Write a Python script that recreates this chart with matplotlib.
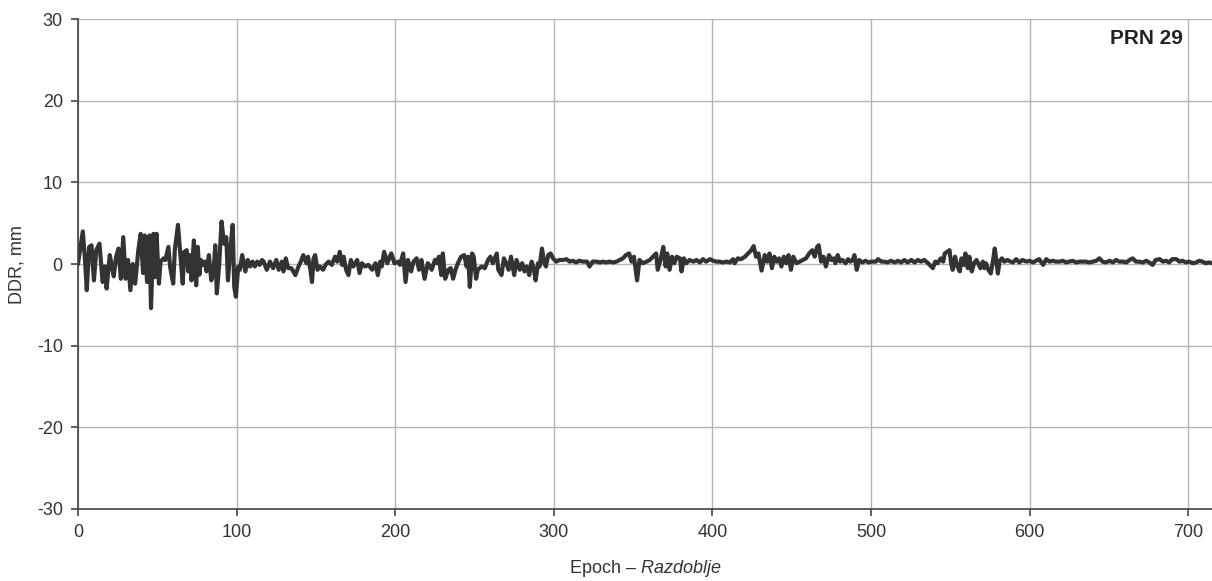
import matplotlib.pyplot as plt
from matplotlib import font_manager

# Epoch / DDR (mm), PRN 29
epoch = [
    0, 3, 4.4, 5.5, 7, 8.5, 10, 11.5, 13.5, 15.5, 17, 18, 20, 21, 22.5, 24, 25.5, 27, 28.5, 30,
    31.5, 33, 34.5, 36, 38, 39.5, 41, 42, 43.5, 45, 46, 47.5, 48.5, 49.5, 51, 52, 54, 55, 57, 58,
    60, 61, 63, 65, 66, 67, 68.5, 69.5, 70.5, 71.5, 73, 74.5, 75.5, 76.5, 77.5, 79, 80, 81, 82.5, 84,
    85.5, 86.5, 87.5, 89, 90.5, 92, 93.5, 94.5, 96, 97.5, 98.5, 99.5, 101, 102, 103.5, 105.5, 107, 108.5, 110, 111.5,
    113, 114.5, 116, 117, 119, 121, 123, 125, 126.5, 128.5, 129.5, 131, 132.5, 134.5, 137, 139, 140.5, 142, 144, 145,
    146.5, 147.5, 148.5, 149.5, 151, 152.5, 154.5, 156, 158, 160, 162, 163.5, 165, 166.5, 167.5, 169, 170.5, 172, 173.5, 176,
    177.5, 179, 181, 183, 185.5, 187.5, 189, 190.5, 191.5, 193, 195, 196.5, 197.5, 199.5, 202, 203, 205, 206.5, 208, 210,
    211.5, 213.5, 215, 216.5, 218.5, 220.5, 222, 223, 225, 226.5, 227.5, 229, 230, 231.5, 233.5, 235, 236.5, 238, 239.5, 241.5,
    243.5, 245, 246, 247, 248.5, 249.5, 251, 252, 254.5, 256.5, 258.5, 260, 261.5, 264, 265, 267, 268.5, 270, 271.5, 273,
    275, 276.5, 278.5, 280, 281.5, 283, 284.5, 286, 287.5, 288.5, 290, 291, 292.5, 294, 295, 296.5, 298, 299.5, 301.5, 303.5,
    306, 308, 310, 312, 314, 316, 318.5, 321, 322.5, 324.5, 327, 329, 331, 333, 335, 337.5, 339.5, 341.5, 343.5, 345.5,
    347.5, 349, 350.5, 352.5, 354, 356, 358.5, 360.5, 362.5, 364.5, 365.5, 367.5, 369, 370.5, 371.5, 373, 374.5, 376, 377.5, 379.5,
    380.5, 382, 383.5, 385.5, 388, 390, 392, 394, 396, 398.5, 400.5, 402.5, 404.5, 406.5, 409, 411, 413, 414, 416, 418,
    420.5, 422.5, 424.5, 426, 427.5, 429, 431, 433, 434.5, 436, 437.5, 439, 440.5, 442, 443.5, 445, 446.5, 448, 449.5, 451,
    453, 455, 457, 459, 461, 463, 464.5, 466, 467, 468.5, 470, 471.5, 473.5, 475, 476.5, 477.5, 479, 480.5, 482, 484,
    485.5, 487, 488.5, 489.5, 491, 492.5, 494.5, 496.5, 498.5, 500.5, 503, 504.5, 506.5, 508.5, 510.5, 512.5, 515, 517, 519, 521,
    523, 525.5, 527.5, 529.5, 531.5, 533.5, 536, 538, 539, 540.5, 542, 544, 545.5, 546.5, 548, 549.5, 550.5, 551.5, 553, 554.5,
    556, 557, 558.5, 559.5, 561, 562, 563.5, 565, 566.5, 567.5, 569, 570.5, 571.5, 572.5, 574, 575.5, 577, 578, 579, 580,
    581, 582.5, 584, 586, 588, 589.5, 591.5, 593.5, 595.5, 598, 600, 602, 604, 606, 608.5, 610.5, 612.5, 614.5, 616.5, 619,
    621, 623, 625, 627, 629.5, 631.5, 633.5, 635.5, 637.5, 640, 642, 644, 646, 648, 650.5, 652.5, 654.5, 656.5, 659, 661,
    663, 665, 667, 669, 671.5, 673.5, 675.5, 677.5, 679.5, 682, 684, 686, 688, 690, 692.5, 694.5, 696.5, 698.5, 700.5, 703,
    705, 707, 709, 711, 713, 715,
]
ddr = [
    0.1, 4.0, 0.5, -3.2, 2.1, 2.3, -2.0, 1.7, 2.5, -2.2, -0.3, -3.0, 1.1, 0.1, -1.5, 0.9, 1.9, -1.8, 3.3, -1.8,
    0.5, -3.2, 0.0, -2.4, 1.7, 3.7, -1.1, 3.5, -2.2, 3.5, -5.4, 3.7, -1.6, 3.7, -2.4, 0.3, 0.7, 0.5, 2.1, -0.3,
    -2.4, 1.7, 4.8, 0.0, -2.4, 1.5, 1.7, -0.9, 1.1, -2.0, 2.9, -2.6, 2.1, -1.3, 0.5, -0.1, 0.3, -0.9, 1.1, -2.0,
    -0.8, 2.3, -3.6, 0.0, 5.2, 2.5, 3.3, -2.0, 1.7, 4.8, -2.8, -4.0, -0.3, -0.7, 1.1, -0.9, 0.5, -0.3, 0.3, -0.3,
    0.3, -0.1, 0.5, 0.3, -0.7, 0.3, -0.5, 0.5, -0.7, 0.3, -0.9, 0.7, -0.5, -0.5, -1.35, -0.3, 0.3, 1.1, 0.1, 0.9,
    -0.7, -2.2, 0.7, 1.1, -0.7, -0.3, -0.7, -0.1, 0.3, -0.1, 0.9, 0.3, 1.5, -0.1, 0.9, -0.7, -1.35, 0.5, -0.3, 0.5,
    -1.1, 0.1, -0.3, -0.1, -0.7, 0.1, -1.35, 0.3, -0.3, 1.5, 0.1, 0.9, 1.3, 0.1, 0.3, -0.1, 1.3, -2.2, 0.5, -0.9,
    0.3, 0.7, -0.7, 0.5, -1.8, 0.1, -0.3, -0.7, 0.5, 0.1, 0.9, -1.35, 1.3, -1.8, -0.7, -0.5, -1.8, -0.7, 0.1, 0.9,
    1.1, -0.3, 0.9, -2.8, 1.3, 0.9, -1.8, -0.7, -0.3, -0.5, 0.5, 0.9, 0.1, 1.3, -0.7, -1.35, 0.7, 0.1, -0.7, 0.9,
    -1.35, 0.5, -0.7, 0.1, -0.9, -0.3, -1.35, 0.3, -0.7, -2.0, 0.1, -0.3, 1.9, 0.1, -0.3, 1.1, 1.3, 0.7, 0.3, 0.5,
    0.5, 0.6, 0.3, 0.4, 0.2, 0.4, 0.3, 0.3, -0.3, 0.3, 0.3, 0.2, 0.3, 0.2, 0.3, 0.2, 0.3, 0.5, 0.7, 1.1,
    1.3, 0.3, 0.9, -2.0, 0.5, 0.1, 0.3, 0.5, 0.9, 1.3, -0.7, 0.7, 2.1, -0.3, 1.3, -0.7, 0.9, 0.1, 0.9, 0.7,
    -0.9, 0.7, 0.1, 0.5, 0.3, 0.5, 0.2, 0.6, 0.3, 0.6, 0.4, 0.3, 0.3, 0.2, 0.3, 0.2, 0.6, 0.1, 0.7, 0.6,
    0.9, 1.3, 1.7, 2.2, 0.9, 1.3, -0.8, 1.1, 0.3, 1.3, -0.5, 0.9, 0.3, 0.7, -0.3, 0.9, 0.1, 1.1, -0.7, 0.9,
    0.1, 0.3, 0.5, 0.7, 1.3, 1.7, 0.9, 2.1, 2.3, 0.3, 0.9, -0.3, 1.1, 0.5, 0.7, 0.1, 1.1, 0.3, 0.5, 0.1,
    0.6, 0.3, 0.5, 1.1, -0.7, 0.5, 0.2, 0.4, 0.2, 0.3, 0.3, 0.6, 0.3, 0.3, 0.2, 0.4, 0.2, 0.4, 0.2, 0.5,
    0.2, 0.5, 0.2, 0.5, 0.3, 0.5, 0.1, -0.3, -0.5, 0.3, 0.1, 0.7, 0.3, 1.3, 1.5, 1.7, 0.1, -0.7, 0.9, -0.3,
    -0.9, 0.7, -0.1, 1.3, -0.5, 0.9, -0.9, 0.1, 0.5, 0.1, -0.5, 0.3, -0.5, 0.1, -0.7, -1.15, 0.5, 1.9, 0.5, -1.15,
    0.3, 0.7, 0.3, 0.5, 0.3, 0.2, 0.6, 0.2, 0.5, 0.3, 0.4, 0.2, 0.4, 0.6, -0.1, 0.6, 0.3, 0.4, 0.3, 0.3,
    0.4, 0.2, 0.3, 0.4, 0.2, 0.3, 0.3, 0.3, 0.2, 0.3, 0.4, 0.7, 0.3, 0.2, 0.4, 0.2, 0.5, 0.3, 0.3, 0.2,
    0.5, 0.7, 0.3, 0.3, 0.2, 0.4, 0.2, -0.1, 0.5, 0.6, 0.3, 0.4, 0.2, 0.6, 0.6, 0.3, 0.4, 0.2, 0.3, 0.1,
    0.2, 0.4, 0.3, 0.1, 0.2, 0.1,
]

x_ticks = [0, 100, 200, 300, 400, 500, 600, 700]
y_ticks = [-30, -20, -10, 0, 10, 20, 30]

installed = {f.name for f in font_manager.fontManager.ttflist}
fam = [f for f in ['Liberation Sans Narrow', 'Liberation Sans', 'DejaVu Sans'] if f in installed]
plt.rcParams['font.family'] = fam
plt.rcParams['axes.unicode_minus'] = False
plt.rcParams['mathtext.fontset'] = 'custom'
plt.rcParams['mathtext.it'] = fam[0] + ':italic'
plt.rcParams['mathtext.rm'] = fam[0]

fig = plt.figure(figsize=(12.12, 5.81), dpi=100)
ax = fig.add_axes([0.0644, 0.124, 0.9356, 0.843])

ax.plot(epoch, ddr, color='#333333', lw=3.0, solid_joinstyle='round')

ax.set_xlim(0, 715)
ax.set_ylim(-30, 30)
ax.set_xticks(x_ticks)
ax.set_yticks(y_ticks)
ax.grid(True, color='#b4b4b4', lw=1)
ax.set_axisbelow(True)

for s in ['top', 'right']:
    ax.spines[s].set_visible(False)
for s in ['left', 'bottom']:
    ax.spines[s].set_color('#444444')
    ax.spines[s].set_linewidth(1.2)

ax.tick_params(axis='both', labelsize=13, colors='#444444', labelcolor='#333333',
               length=5, width=1.2, direction='out')
ax.tick_params(axis='x', pad=6)
ax.tick_params(axis='y', pad=6)

ax.set_ylabel('DDR, mm', fontsize=13, color='#333333', labelpad=8)
ax.set_xlabel('Epoch – $\\mathit{Razdoblje}$', fontsize=13, color='#333333', labelpad=12)

ax.text(0.974, 0.98, 'PRN 29', transform=ax.transAxes, ha='right', va='top',
        fontsize=15, fontweight='bold', color='#222222')

fig.savefig('out.png', dpi=100)
